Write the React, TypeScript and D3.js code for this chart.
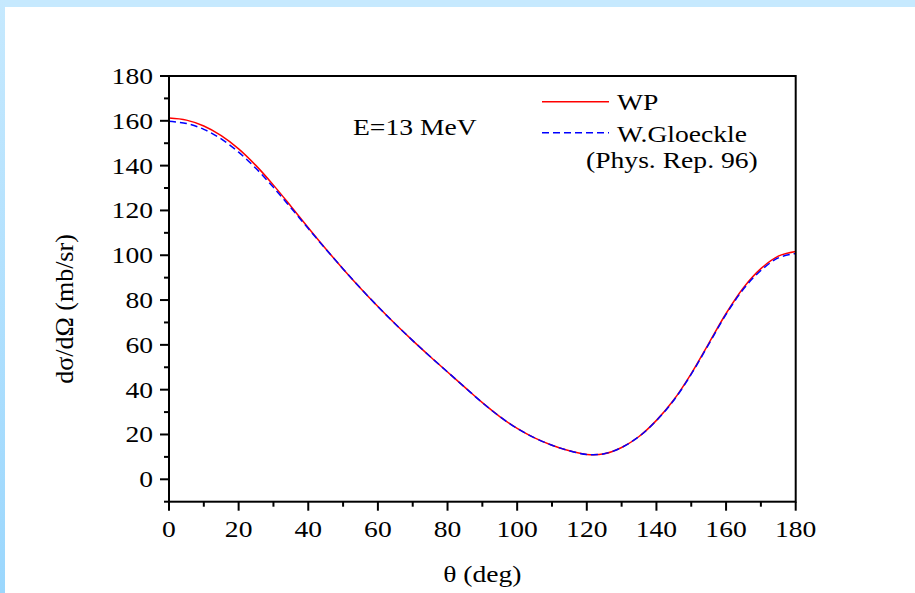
import React from "react";
import * as d3 from "d3";

// ---- data ----
const angles = [0, 5, 10, 15, 20, 25, 30, 35, 40, 45, 50, 55, 60, 65, 70, 75, 80, 85, 90, 95, 100, 105, 110, 115, 120, 125, 130, 135, 140, 145, 150, 155, 160, 165, 170, 175, 180];
const wpValues = [161.2, 160.3, 157.7, 153.4, 147.5, 140.0, 131.3, 121.9, 112.3, 102.9, 93.9, 85.3, 77.1, 69.3, 61.9, 54.8, 47.9, 41.0, 34.2, 28.0, 22.7, 18.5, 15.2, 12.7, 11.1, 11.4, 14.2, 19.1, 26.3, 35.5, 47.2, 60.6, 74.0, 85.5, 94.0, 99.6, 101.7];
const gloeckleValues = [159.8, 158.8, 156.2, 151.9, 146.0, 138.7, 130.3, 121.2, 111.9, 102.8, 93.9, 85.3, 77.1, 69.3, 61.9, 54.8, 47.9, 41.0, 34.2, 28.0, 22.7, 18.5, 15.2, 12.7, 11.1, 11.4, 14.2, 19.1, 26.2, 35.3, 46.9, 60.2, 73.6, 84.9, 93.2, 98.8, 100.8];
const xTicks = [0, 20, 40, 60, 80, 100, 120, 140, 160, 180];
const xMinorTicks = [10, 30, 50, 70, 90, 110, 130, 150, 170];
const yTicks = [0, 20, 40, 60, 80, 100, 120, 140, 160, 180];
const yMinorTicks = [-10, 10, 30, 50, 70, 90, 110, 130, 150, 170];
const seriesNames = ["WP", "W.Gloeckle"];
const legendNote = "(Phys. Rep. 96)";
const annotation = "E=13 MeV";
const xTitle = "θ (deg)";
const yTitle = "dσ/dΩ (mb/sr)";

const W = 915;
const H = 593;
const FONT = "'Liberation Serif', 'Times New Roman', serif";
const SX = 1.15; // horizontal stretch of the reference's lettering
const FS = 24;

const T = ({ x, y, anchor = "start", children, size = FS }: any) => (
  <text
    transform={`translate(${x},${y}) scale(${SX},1)`}
    textAnchor={anchor}
    fontFamily={FONT}
    fontSize={size}
    fill="#000"
  >
    {children}
  </text>
);

export default function App() {
  const x = d3.scaleLinear().domain([0, 180]).range([169, 795.7]);
  const y = d3.scaleLinear().domain([-10, 180]).range([501.7, 76]);

  const line = d3
    .line<number>()
    .x((_, i) => x(angles[i]))
    .y((v) => y(v))
    .curve(d3.curveCatmullRom.alpha(0.5));

  const x0 = x.range()[0];
  const x1 = x.range()[1];
  const y0 = y.range()[0];
  const y1 = y.range()[1];

  return (
    <div style={{ position: "absolute", left: 0, top: 0, width: W, height: H }}>
      <svg width={W} height={H} style={{ display: "block" }}>
        <defs>
          <linearGradient id="leftStrip" x1="0" y1="0" x2="0" y2="1">
            <stop offset="0" stopColor="#c6e9fe" />
            <stop offset="1" stopColor="#9bd7fd" />
          </linearGradient>
        </defs>
        <rect x={0} y={0} width={W} height={H} fill="#fff" />
        <rect x={0} y={0} width={W} height={7} fill="#c6e9fe" />
        <rect x={0} y={0} width={5} height={H} fill="url(#leftStrip)" />

        {/* curves */}
        <path d={line(wpValues) || ""} fill="none" stroke="#ff0000" strokeWidth={1.5} />
        <path
          d={line(gloeckleValues) || ""}
          fill="none"
          stroke="#0000ff"
          strokeWidth={1.5}
          strokeDasharray="7,4"
        />

        {/* frame */}
        <rect x={x0} y={y1} width={x1 - x0} height={y0 - y1} fill="none" stroke="#000" strokeWidth={2} />

        {/* y ticks */}
        {yTicks.map((t) => (
          <line key={"ym" + t} x1={x0 - 9} x2={x0} y1={y(t)} y2={y(t)} stroke="#000" strokeWidth={2} />
        ))}
        {yMinorTicks.map((t) => (
          <line key={"yn" + t} x1={x0 - 5} x2={x0} y1={y(t)} y2={y(t)} stroke="#000" strokeWidth={2} />
        ))}
        {yTicks.map((t) => (
          <T key={"yl" + t} x={153} y={y(t) + 8} anchor="end">
            {t}
          </T>
        ))}

        {/* x ticks */}
        {xTicks.map((t) => (
          <line key={"xm" + t} x1={x(t)} x2={x(t)} y1={y0} y2={y0 + 9} stroke="#000" strokeWidth={2} />
        ))}
        {xMinorTicks.map((t) => (
          <line key={"xn" + t} x1={x(t)} x2={x(t)} y1={y0} y2={y0 + 5} stroke="#000" strokeWidth={2} />
        ))}
        {xTicks.map((t) => (
          <T key={"xl" + t} x={x(t)} y={537} anchor="middle">
            {t}
          </T>
        ))}

        {/* axis titles */}
        <T x={(x0 + x1) / 2} y={582} anchor="middle">
          {xTitle}
        </T>
        <text
          transform={`translate(73,309) rotate(-90)`}
          textAnchor="middle"
          fontFamily={FONT}
          fontSize={26}
          fill="#000"
        >
          {yTitle}
        </text>

        {/* annotation */}
        <T x={353} y={135}>
          {annotation}
        </T>

        {/* legend */}
        <line x1={542} x2={609} y1={101.7} y2={101.7} stroke="#ff0000" strokeWidth={1.5} />
        <T x={617} y={109.5}>
          {seriesNames[0]}
        </T>
        <line x1={542} x2={609} y1={132.7} y2={132.7} stroke="#0000ff" strokeWidth={1.5} strokeDasharray="7,4" />
        <T x={617} y={141.5}>
          {seriesNames[1]}
        </T>
        <T x={586} y={168}>
          {legendNote}
        </T>
      </svg>
    </div>
  );
}
